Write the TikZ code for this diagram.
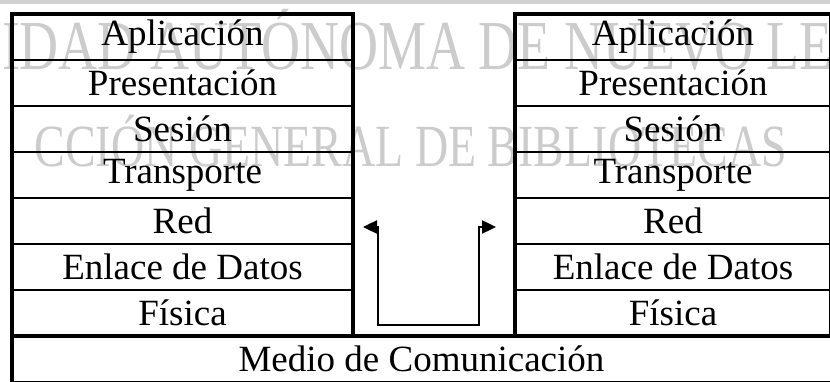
\documentclass[tikz,border=0pt]{standalone}
\usepackage{fontspec}
\setmainfont{Liberation Serif}
\usetikzlibrary{arrows.meta}

\begin{document}
\begin{tikzpicture}[x=1pt, y=-1pt,
  every node/.style={outer sep=0pt, inner sep=0pt},
  capa/.style={draw, line width=1.6pt, minimum height=46pt, font=\fontsize{37}{40}\selectfont},
  capaL/.style={capa, minimum width=341pt},
  capaR/.style={capa, minimum width=316pt},
  marco/.style={line width=3.2pt},
  marca/.style={text=black!20, font=\fontsize{54}{60}\selectfont, yscale=1.3}]
\clip (0,0) rectangle (830,382);
\fill[black!18] (0,0) rectangle (830,4);

\node[marca, anchor=base west] (univ) at (2,70) {IDAD AUTÓNOMA DE NUEVO LE};
\node[marca, font=\fontsize{46}{50}\selectfont, anchor=base east] (dgb) at (787,167) {CCIÓN GENERAL DE BIBLIOTECAS};

\node[capaL] (aplL) at (182.5,37) {Aplicación};
\node[capaL] (preL) at (182.5,83) {Presentación};
\node[capaL] (sesL) at (182.5,129) {Sesión};
\node[capaL] (traL) at (182.5,175) {Transporte};
\node[capaL] (redL) at (182.5,221) {Red};
\node[capaL] (enlL) at (182.5,267) {Enlace de Datos};
\node[capaL] (fisL) at (182.5,313) {Física};

\node[capaR] (aplR) at (673,37) {Aplicación};
\node[capaR] (preR) at (673,83) {Presentación};
\node[capaR] (sesR) at (673,129) {Sesión};
\node[capaR] (traR) at (673,175) {Transporte};
\node[capaR] (redR) at (673,221) {Red};
\node[capaR] (enlR) at (673,267) {Enlace de Datos};
\node[capaR] (fisR) at (673,313) {Física};

\node[capa, minimum width=819pt] (medio) at (421.5,359) {Medio de Comunicación};

\draw[marco] (medio.south west) -- (aplL.north west) -- (aplL.north east) -- (fisL.south east);
\draw[marco] (fisR.south west) -- (aplR.north west) -- (aplR.north east) -- (fisR.south east);
\draw[marco] (medio.north west) -- (medio.north east);

\coordinate (ini) at ([xshift=10pt,yshift=-6pt]redL.east);
\coordinate (fin) at ([xshift=-19pt,yshift=-6pt]redR.west);
\draw[{Triangle[length=14pt,width=13pt]}-{Triangle[length=14pt,width=13pt]}, line width=2.4pt]
  (ini) -- ++(15,0) -- ++(0,98) -| ([xshift=-17pt]fin) -- (fin);
\end{tikzpicture}
\end{document}
